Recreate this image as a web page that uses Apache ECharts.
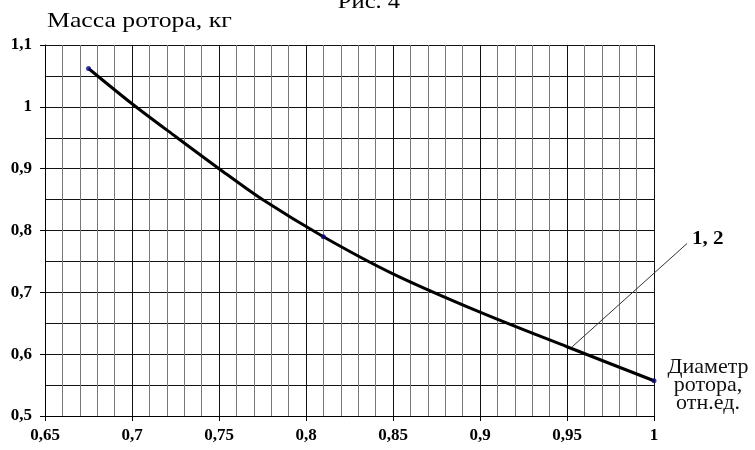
<!DOCTYPE html>
<html>
<head>
<meta charset="utf-8">
<script src="https://cdn.jsdelivr.net/npm/echarts@6/dist/echarts.min.js"></script>
<style>
  html, body { margin: 0; padding: 0; background: #fff; }
  #chart { width: 755px; height: 450px; }
</style>
</head>
<body>
<div id="chart"></div>
<script>
// Rotor mass vs relative rotor diameter
const diameter = [0.675, 0.7, 0.725, 0.75, 0.775, 0.81, 0.85, 0.9, 0.95, 1.0];
const mass     = [1.062, 1.005, 0.952, 0.900, 0.850, 0.790, 0.730, 0.668, 0.612, 0.557];
// design points marked on the curve
const markedDiameter = [0.675, 0.81, 1.0];
const markedMass     = [1.062, 0.790, 0.557];

const serif = '"Liberation Serif", "DejaVu Serif", serif';
const fmt = v => String(Math.round(v * 100) / 100).replace('.', ',');

const chart = echarts.init(document.getElementById('chart'));

chart.setOption({
  animation: false,
  backgroundColor: '#fff',
  grid: { left: 45, right: 101, top: 45, bottom: 34 },
  xAxis: {
    type: 'value',
    min: 0.65, max: 1.0, interval: 0.05,
    axisLine: { show: true, onZero: false, lineStyle: { color: '#000', width: 1 } },
    axisTick: { show: true, length: 5, inside: false, lineStyle: { color: '#000' } },
    axisLabel: { formatter: fmt, margin: 11, color: '#000', fontFamily: serif, fontWeight: 'bold', fontSize: 17 },
    splitLine: { show: true, lineStyle: { color: '#111', width: 1 } },
    minorTick: { show: false, splitNumber: 5 },
    minorSplitLine: { show: true, lineStyle: { color: '#777', width: 1 } }
  },
  yAxis: {
    type: 'value',
    min: 0.5, max: 1.1, interval: 0.1,
    axisLine: { show: true, onZero: false, lineStyle: { color: '#000', width: 1 } },
    axisTick: { show: true, length: 5, lineStyle: { color: '#000' } },
    axisLabel: { formatter: fmt, margin: 13, color: '#000', fontFamily: serif, fontWeight: 'bold', fontSize: 17 },
    splitLine: { show: true, lineStyle: { color: '#111', width: 1 } },
    minorTick: { show: false, splitNumber: 2 },
    minorSplitLine: { show: true, lineStyle: { color: '#111', width: 1 } }
  },
  series: [
    {
      type: 'line',
      data: diameter.map((d, i) => [d, mass[i]]),
      smooth: 0.3,
      showSymbol: false,
      lineStyle: { color: '#000', width: 3 },
      z: 3
    },
    {
      type: 'scatter',
      data: markedDiameter.map((d, i) => [d, markedMass[i]]),
      symbolSize: 5,
      itemStyle: { color: '#0a0a80' },
      z: 4
    }
  ]
});

// callout "1, 2" pointing at the curve
const p0 = chart.convertToPixel({ gridIndex: 0 }, [0.953, 0.612]);
const p1 = chart.convertToPixel({ gridIndex: 0 }, [1.019, 0.779]);

chart.setOption({
  graphic: [
    {
      type: 'text',
      x: 47, y: 10, scaleX: 1.17,
      style: { text: 'Масса ротора, кг', font: '22px ' + serif, fill: '#000' }
    },
    {
      type: 'text',
      x: 369, y: 13, scaleX: 1.17,
      style: { text: 'Рис. 4', font: '21px ' + serif, fill: '#000', textAlign: 'center', textVerticalAlign: 'bottom' }
    },
    {
      type: 'text',
      x: 708, y: 358,
      style: {
        text: 'Диаметр\nротора,\nотн.ед.',
        font: '22px ' + serif, lineHeight: 18, fill: '#111',
        textAlign: 'center'
      }
    },
    {
      type: 'text',
      x: p1[0] + 5, y: p1[1] - 4, scaleX: 1.17,
      style: { text: '1, 2', font: 'bold 18px ' + serif, fill: '#000', textVerticalAlign: 'middle' }
    },
    {
      type: 'line',
      shape: { x1: p0[0], y1: p0[1], x2: p1[0], y2: p1[1] },
      style: { stroke: '#333', lineWidth: 1 },
      z: 10
    }
  ]
});
</script>
</body>
</html>
